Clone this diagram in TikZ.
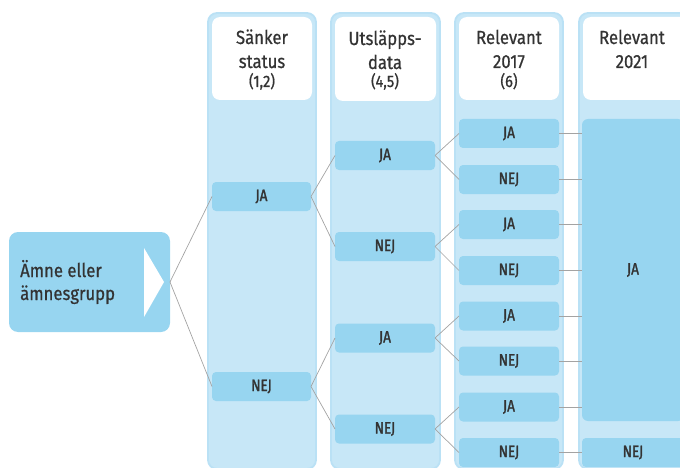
\documentclass[tikz,border=0pt]{standalone}
\usepackage{fontspec}
\setmainfont{Fira Sans}[FakeStretch=0.88,FakeBold=0.7]
\newfontfamily\lblfont{Fira Sans}[FakeStretch=0.82,FakeBold=1.6]
\definecolor{colbg}{HTML}{C7E7F7}
\definecolor{colrim}{HTML}{BAE1F5}
\definecolor{optblue}{HTML}{97D5F0}
\definecolor{txt}{HTML}{333333}
\definecolor{linkgray}{HTML}{A3A3A3}
\tikzset{
  colbox/.style={fill=colbg, draw=colrim, line width=1.8pt, rounded corners=9pt},
  hdrbox/.style={fill=white, rounded corners=8pt},
  optbox/.style={fill=optblue, rounded corners=4pt, inner sep=0pt, outer sep=0pt,
    minimum width=100pt, minimum height=29pt, text=txt, font=\lblfont\fontsize{16.5}{18}\selectfont},
  hdrtxt/.style={text=txt, inner sep=0pt, anchor=base, font=\fontsize{19}{22}\selectfont},
  hdrsub/.style={text=txt, inner sep=0pt, anchor=base, font=\fontsize{16.5}{18}\selectfont},
  roottxt/.style={text=txt, inner sep=0pt, anchor=base west, font=\fontsize{19}{22}\selectfont},
  link/.style={draw=linkgray, line width=0.7pt}
}
\begin{document}
\begin{tikzpicture}[x=1pt,y=-1pt]
\useasboundingbox (0,0) rectangle (680,468);
\begin{scope}
\clip (0,0) rectangle (680,468);
% columns
\draw[colbox] (208,13) rectangle (316,469);
\draw[colbox] (331,13) rectangle (440,469);
\draw[colbox] (455,13) rectangle (563,469);
\draw[colbox] (579,13) rectangle (700,469);
% header boxes
\fill[hdrbox] (212,17) rectangle (312,100);
\fill[hdrbox] (335,17) rectangle (436,101);
\fill[hdrbox] (459,17) rectangle (559,100);
\fill[hdrbox] (583,17) rectangle (700,100);
% header texts
\node[hdrtxt] (h1a) at (262,44) {Sänker};
\node[hdrtxt] (h1b) at (262,68) {status};
\node[hdrsub] (h1c) at (262,87) {(1,2)};
\node[hdrtxt] (h2a) at (385,45) {Utsläpps-};
\node[hdrtxt] (h2b) at (385,69) {data};
\node[hdrsub] (h2c) at (385,87) {(4,5)};
\node[hdrtxt] (h3a) at (509,44) {Relevant};
\node[hdrtxt] (h3b) at (509,68) {2017};
\node[hdrsub] (h3c) at (509,87) {(6)};
\node[hdrtxt] (h4a) at (632,44) {Relevant};
\node[hdrtxt] (h4b) at (632,68) {2021};
% root
\node[fill=optblue, rounded corners=9pt, minimum width=161pt, minimum height=100pt, inner sep=0pt, outer sep=0pt] (root) at (89.5,282) {};
\fill[white] (144,248) -- (164,282) -- (144,317) -- cycle;
\node[roottxt] (rt1) at (20,277) {Ämne eller};
\node[roottxt] (rt2) at (20,300) {ämnesgrupp};
% column 1
\node[optbox, minimum width=99pt] (s1ja) at (261.5,196.5) {JA};
\node[optbox, minimum width=99pt] (s1nej) at (261.5,386.5) {NEJ};
% column 2
\node[optbox] (s2a) at (385,155.5) {JA};
\node[optbox] (s2b) at (385,246.5) {NEJ};
\node[optbox] (s2c) at (385,338) {JA};
\node[optbox] (s2d) at (385,429) {NEJ};
% column 3
\node[optbox] (r1) at (509,133.5) {JA};
\node[optbox] (r2) at (509,179.5) {NEJ};
\node[optbox] (r3) at (509,224.5) {JA};
\node[optbox] (r4) at (509,270.5) {NEJ};
\node[optbox] (r5) at (509,316) {JA};
\node[optbox] (r6) at (509,361) {NEJ};
\node[optbox] (r7) at (509,407) {JA};
\node[optbox] (r8) at (509,452.5) {NEJ};
% column 4
\node[optbox, minimum width=102pt, minimum height=302pt, rounded corners=6pt] (bigja) at (633,270) {JA};
\node[optbox, minimum width=102pt] (n4) at (633,452.5) {NEJ};
% links
\draw[link] (root.east) -- (s1ja.west);
\draw[link] (root.east) -- (s1nej.west);
\draw[link] (s1ja.east) -- (s2a.west);
\draw[link] (s1ja.east) -- (s2b.west);
\draw[link] (s1nej.east) -- (s2c.west);
\draw[link] (s1nej.east) -- (s2d.west);
\draw[link] (s2a.east) -- (r1.west);
\draw[link] (s2a.east) -- (r2.west);
\draw[link] (s2b.east) -- (r3.west);
\draw[link] (s2b.east) -- (r4.west);
\draw[link] (s2c.east) -- (r5.west);
\draw[link] (s2c.east) -- (r6.west);
\draw[link] (s2d.east) -- (r7.west);
\draw[link] (s2d.east) -- (r8.west);
\foreach \r in {r1,r2,r3,r4,r5,r6,r7} {
  \draw[link] (\r.east) -- (bigja.west |- \r.east);
}
\draw[link] (r8.east) -- (n4.west);
\end{scope}
\end{tikzpicture}
\end{document}
